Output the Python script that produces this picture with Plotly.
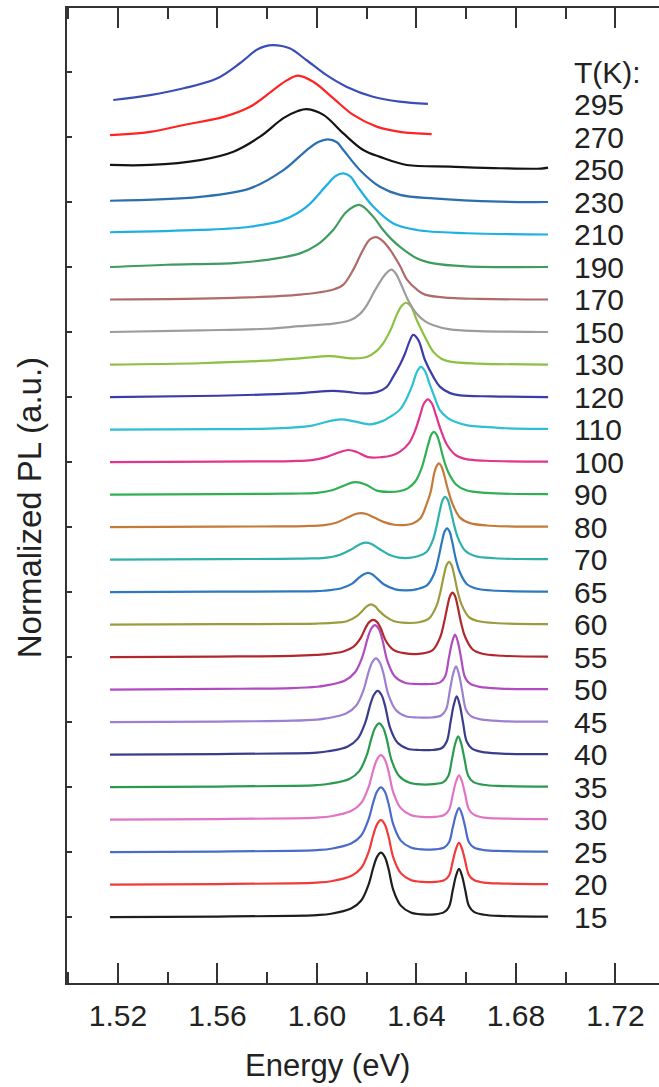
import plotly.graph_objects as go

temps = [15, 20, 25, 30, 35, 40, 45, 50, 55, 60, 65, 70, 80, 90, 100, 110, 120, 130, 150, 170, 190, 210, 230, 250, 270, 295]
colors = ['#1e1e1e', '#f23a3a', '#4a6cc8', '#e274c4', '#2a9a50', '#3a3c8c', '#9c80d2', '#b04cc0', '#b0282c', '#9c9c3e',
          '#2e78c0', '#2eb0ac', '#c47a38', '#30b052', '#e2348c', '#2cc0d2', '#3a3ca8', '#8cc040', '#9c9c9c', '#b06a6a',
          '#3e9c5e', '#1eb0e2', '#2c6eae', '#141414', '#ff2424', '#3a4eb6']

# energies (eV) and normalized intensities
e_15_30 = [1.5168, 1.5600, 1.5900, 1.6000, 1.6057, 1.6137, 1.6177, 1.6207, 1.6227, 1.6242,
           1.6257, 1.6272, 1.6287, 1.6307, 1.6337, 1.6377, 1.6425, 1.6471, 1.6511, 1.6531,
           1.6546, 1.6559, 1.6571, 1.6583, 1.6596, 1.6611, 1.6631, 1.6671, 1.6751, 1.6929]
i15 = [0.00, 0.015, 0.035, 0.06, 0.10, 0.26, 0.50, 0.99, 1.54, 1.86,
       1.98, 1.86, 1.50, 0.83, 0.35, 0.14, 0.08, 0.08, 0.15, 0.32,
       0.83, 1.27, 1.48, 1.27, 0.83, 0.34, 0.16, 0.07, 0.03, 0.01]
i20 = [0.00, 0.015, 0.035, 0.06, 0.10, 0.26, 0.50, 0.99, 1.54, 1.86,
       1.98, 1.86, 1.50, 0.83, 0.35, 0.14, 0.08, 0.08, 0.13, 0.28,
       0.72, 1.10, 1.28, 1.10, 0.72, 0.29, 0.14, 0.06, 0.03, 0.01]
i25 = [0.00, 0.015, 0.035, 0.06, 0.10, 0.26, 0.50, 1.00, 1.55, 1.87,
       1.99, 1.87, 1.51, 0.84, 0.35, 0.14, 0.08, 0.08, 0.14, 0.30,
       0.76, 1.16, 1.35, 1.16, 0.76, 0.30, 0.14, 0.06, 0.03, 0.01]
i30 = [0.00, 0.015, 0.035, 0.06, 0.10, 0.26, 0.50, 0.99, 1.54, 1.86,
       1.98, 1.86, 1.50, 0.83, 0.35, 0.14, 0.08, 0.08, 0.14, 0.30,
       0.76, 1.17, 1.36, 1.17, 0.76, 0.31, 0.15, 0.06, 0.03, 0.01]
e35 = [1.5168, 1.5600, 1.5900, 1.6000, 1.6050, 1.6130, 1.6170, 1.6200, 1.6220, 1.6235,
       1.6250, 1.6265, 1.6280, 1.6300, 1.6330, 1.6370, 1.6420, 1.6468, 1.6508, 1.6528,
       1.6543, 1.6556, 1.6568, 1.6580, 1.6593, 1.6608, 1.6628, 1.6668, 1.6748, 1.6929]
i35 = [0.00, 0.015, 0.035, 0.06, 0.10, 0.25, 0.49, 0.98, 1.53, 1.84,
       1.96, 1.84, 1.49, 0.82, 0.34, 0.14, 0.08, 0.09, 0.15, 0.34,
       0.87, 1.34, 1.56, 1.33, 0.86, 0.35, 0.16, 0.07, 0.03, 0.01]
e40 = [1.5168, 1.5600, 1.5900, 1.6000, 1.6044, 1.6124, 1.6164, 1.6194, 1.6214, 1.6229,
       1.6244, 1.6259, 1.6274, 1.6294, 1.6324, 1.6364, 1.6412, 1.6462, 1.6502, 1.6522,
       1.6537, 1.6550, 1.6562, 1.6574, 1.6587, 1.6602, 1.6622, 1.6662, 1.6742, 1.6929]
i40 = [0.00, 0.015, 0.035, 0.06, 0.10, 0.25, 0.49, 0.98, 1.53, 1.84,
       1.96, 1.84, 1.49, 0.82, 0.36, 0.18, 0.14, 0.14, 0.20, 0.41,
       1.00, 1.53, 1.79, 1.52, 0.99, 0.40, 0.19, 0.08, 0.03, 0.01]
e45 = [1.5168, 1.5600, 1.5900, 1.6000, 1.6037, 1.6117, 1.6157, 1.6187, 1.6207, 1.6222,
       1.6237, 1.6252, 1.6267, 1.6287, 1.6317, 1.6357, 1.6405, 1.6459, 1.6499, 1.6519,
       1.6534, 1.6547, 1.6559, 1.6571, 1.6584, 1.6599, 1.6619, 1.6659, 1.6739, 1.6929]
i45 = [0.00, 0.015, 0.04, 0.075, 0.11, 0.26, 0.50, 0.98, 1.53, 1.84,
       1.96, 1.84, 1.50, 0.84, 0.37, 0.18, 0.14, 0.14, 0.20, 0.39,
       0.96, 1.47, 1.71, 1.46, 0.95, 0.38, 0.18, 0.08, 0.03, 0.01]
e50 = [1.5168, 1.5600, 1.5900, 1.6000, 1.6033, 1.6113, 1.6153, 1.6183, 1.6203, 1.6218,
       1.6233, 1.6248, 1.6263, 1.6283, 1.6313, 1.6353, 1.6401, 1.6455, 1.6495, 1.6515,
       1.6530, 1.6543, 1.6555, 1.6567, 1.6580, 1.6595, 1.6615, 1.6655, 1.6735, 1.6929]
i50 = [0.00, 0.02, 0.045, 0.085, 0.12, 0.28, 0.53, 1.02, 1.56, 1.87,
       1.98, 1.87, 1.53, 0.88, 0.40, 0.21, 0.17, 0.17, 0.22, 0.40,
       0.96, 1.45, 1.69, 1.45, 0.94, 0.38, 0.18, 0.08, 0.03, 0.01]
e55 = [1.5168, 1.5600, 1.5900, 1.6000, 1.6026, 1.6106, 1.6146, 1.6176, 1.6196, 1.6211,
       1.6226, 1.6241, 1.6256, 1.6276, 1.6306, 1.6350, 1.6425, 1.6465, 1.6495, 1.6510,
       1.6525, 1.6535, 1.6545, 1.6555, 1.6565, 1.6580, 1.6595, 1.6625, 1.6665, 1.6745, 1.6929]
i55 = [0.00, 0.015, 0.035, 0.065, 0.08, 0.17, 0.31, 0.59, 0.91, 1.08,
       1.14, 1.08, 0.89, 0.51, 0.23, 0.12, 0.11, 0.21, 0.60, 1.03,
       1.58, 1.88, 1.98, 1.88, 1.58, 1.03, 0.63, 0.24, 0.10, 0.04, 0.01]
e60 = [1.5168, 1.5600, 1.5900, 1.6000, 1.6060, 1.6120, 1.6160, 1.6185, 1.6200, 1.6217,
       1.6234, 1.6250, 1.6275, 1.6310, 1.6360, 1.6411, 1.6451, 1.6481, 1.6496, 1.6511,
       1.6521, 1.6531, 1.6541, 1.6551, 1.6566, 1.6581, 1.6611, 1.6651, 1.6731, 1.6929]
i60 = [0.00, 0.01, 0.02, 0.03, 0.05, 0.10, 0.26, 0.44, 0.56, 0.62,
       0.56, 0.42, 0.25, 0.10, 0.05, 0.07, 0.19, 0.58, 1.00, 1.54,
       1.83, 1.93, 1.83, 1.54, 1.00, 0.62, 0.23, 0.10, 0.04, 0.01]
e65 = [1.5168, 1.5600, 1.5900, 1.6000, 1.6025, 1.6095, 1.6140, 1.6170, 1.6187, 1.6205,
       1.6223, 1.6240, 1.6270, 1.6315, 1.6360, 1.6403, 1.6443, 1.6473, 1.6488, 1.6503,
       1.6513, 1.6523, 1.6533, 1.6543, 1.6558, 1.6573, 1.6603, 1.6643, 1.6723, 1.6929]
i65 = [0.00, 0.01, 0.02, 0.03, 0.04, 0.11, 0.25, 0.45, 0.54, 0.59,
       0.54, 0.43, 0.23, 0.08, 0.05, 0.09, 0.21, 0.60, 1.03, 1.57,
       1.86, 1.96, 1.86, 1.57, 1.02, 0.63, 0.24, 0.10, 0.04, 0.01]
e70 = [1.5168, 1.5600, 1.5850, 1.5950, 1.6030, 1.6090, 1.6140, 1.6175, 1.6197, 1.6219,
       1.6250, 1.6290, 1.6330, 1.6370, 1.6405, 1.6440, 1.6465, 1.6480, 1.6495, 1.6505,
       1.6515, 1.6525, 1.6535, 1.6550, 1.6565, 1.6595, 1.6635, 1.6715, 1.6929]
i70 = [0.00, 0.01, 0.02, 0.03, 0.05, 0.14, 0.32, 0.48, 0.52, 0.48,
       0.33, 0.15, 0.06, 0.05, 0.10, 0.23, 0.58, 1.00, 1.54, 1.83,
       1.93, 1.85, 1.60, 1.10, 0.70, 0.28, 0.11, 0.04, 0.01]
e80 = [1.5168, 1.5600, 1.5850, 1.5950, 1.6030, 1.6080, 1.6125, 1.6155, 1.6177, 1.6199,
       1.6230, 1.6270, 1.6310, 1.6350, 1.6385, 1.6415, 1.6440, 1.6457, 1.6470, 1.6480,
       1.6490, 1.6500, 1.6510, 1.6527, 1.6545, 1.6575, 1.6615, 1.6700, 1.6929]
i80 = [0.00, 0.01, 0.02, 0.03, 0.06, 0.14, 0.30, 0.40, 0.43, 0.40,
       0.29, 0.15, 0.07, 0.06, 0.11, 0.26, 0.69, 1.08, 1.61, 1.86,
       1.96, 1.87, 1.64, 1.14, 0.71, 0.29, 0.12, 0.04, 0.01]
e90 = [1.5168, 1.5600, 1.5800, 1.5900, 1.6000, 1.6060, 1.6110, 1.6153, 1.6195, 1.6241,
       1.6290, 1.6330, 1.6365, 1.6395, 1.6420, 1.6437, 1.6450, 1.6460, 1.6470, 1.6480,
       1.6490, 1.6507, 1.6527, 1.6560, 1.6600, 1.6680, 1.6929]
i90 = [0.00, 0.01, 0.02, 0.03, 0.05, 0.13, 0.28, 0.38, 0.31, 0.12,
       0.08, 0.10, 0.19, 0.40, 0.80, 1.25, 1.62, 1.85, 1.93, 1.86,
       1.66, 1.15, 0.70, 0.30, 0.13, 0.05, 0.01]
e100 = [1.5168, 1.5600, 1.5800, 1.5900, 1.5980, 1.6040, 1.6090, 1.6125, 1.6160, 1.6205,
        1.6260, 1.6300, 1.6334, 1.6370, 1.6395, 1.6415, 1.6430, 1.6446, 1.6462, 1.6478,
        1.6498, 1.6525, 1.6560, 1.6600, 1.6680, 1.6929]
i100 = [0.00, 0.01, 0.02, 0.03, 0.06, 0.16, 0.30, 0.37, 0.31, 0.15,
        0.15, 0.20, 0.32, 0.58, 0.98, 1.45, 1.80, 1.93, 1.80, 1.45,
        0.98, 0.50, 0.20, 0.09, 0.04, 0.01]
e110 = [1.5168, 1.5600, 1.5800, 1.5900, 1.5980, 1.6040, 1.6096, 1.6150, 1.6213, 1.6260,
        1.6294, 1.6334, 1.6360, 1.6385, 1.6402, 1.6418, 1.6434, 1.6452, 1.6475, 1.6494,
        1.6525, 1.6555, 1.6610, 1.6675, 1.6760, 1.6929]
i110 = [0.00, 0.01, 0.03, 0.06, 0.12, 0.24, 0.31, 0.25, 0.16, 0.25,
        0.39, 0.62, 0.95, 1.40, 1.78, 1.93, 1.80, 1.42, 0.95, 0.60,
        0.36, 0.24, 0.12, 0.08, 0.04, 0.02]
e120 = [1.5168, 1.5600, 1.5800, 1.5950, 1.6064, 1.6130, 1.6185, 1.6240, 1.6280, 1.6306,
        1.6334, 1.6354, 1.6374, 1.6386, 1.6407, 1.6434, 1.6468, 1.6494, 1.6535, 1.6575,
        1.6700, 1.6929]
i120 = [0.00, 0.04, 0.08, 0.13, 0.19, 0.15, 0.11, 0.15, 0.31, 0.62,
        1.00, 1.34, 1.75, 1.91, 1.76, 1.14, 0.62, 0.32, 0.12, 0.05,
        0.02, 0.00]
e130 = [1.5168, 1.5530, 1.5800, 1.5932, 1.6052, 1.6145, 1.6200, 1.6240, 1.6266, 1.6295,
        1.6320, 1.6340, 1.6358, 1.6378, 1.6401, 1.6434, 1.6468, 1.6500, 1.6535, 1.6650,
        1.6929]
i130 = [0.00, 0.04, 0.12, 0.19, 0.26, 0.19, 0.23, 0.42, 0.65, 1.05,
        1.52, 1.80, 1.90, 1.78, 1.37, 0.85, 0.39, 0.18, 0.09, 0.03,
        0.00]
e150 = [1.5168, 1.5530, 1.5798, 1.5932, 1.6066, 1.6133, 1.6173, 1.6200, 1.6233, 1.6266,
        1.6285, 1.6300, 1.6317, 1.6334, 1.6367, 1.6401, 1.6435, 1.6468, 1.6535, 1.6650,
        1.6929]
i150 = [0.00, 0.05, 0.10, 0.18, 0.26, 0.36, 0.56, 0.82, 1.28, 1.69,
        1.86, 1.92, 1.80, 1.54, 0.97, 0.56, 0.33, 0.21, 0.08, 0.03,
        0.00]
e170 = [1.5168, 1.5664, 1.5932, 1.6066, 1.6106, 1.6146, 1.6186, 1.6213, 1.6237, 1.6266,
        1.6293, 1.6334, 1.6361, 1.6401, 1.6434, 1.6535, 1.6650, 1.6929]
i170 = [0.00, 0.05, 0.15, 0.31, 0.46, 0.92, 1.54, 1.85, 1.92, 1.79,
        1.54, 1.03, 0.62, 0.31, 0.15, 0.05, 0.02, 0.00]
e190 = [1.5168, 1.5396, 1.5664, 1.5798, 1.5932, 1.6000, 1.6066, 1.6119, 1.6170, 1.6226,
        1.6266, 1.6300, 1.6334, 1.6401, 1.6468, 1.6600, 1.6929]
i190 = [0.00, 0.07, 0.12, 0.22, 0.42, 0.68, 1.15, 1.70, 1.91, 1.55,
        1.14, 0.85, 0.62, 0.27, 0.11, 0.02, 0.00]
e210 = [1.5168, 1.5530, 1.5731, 1.5865, 1.5959, 1.6039, 1.6075, 1.6105, 1.6135, 1.6159,
        1.6226, 1.6307, 1.6401, 1.6602, 1.6929]
i210 = [0.07, 0.14, 0.24, 0.45, 0.86, 1.52, 1.80, 1.88, 1.78, 1.52,
        0.86, 0.34, 0.14, 0.04, 0.00]
e230 = [1.5168, 1.5530, 1.5731, 1.5865, 1.5959, 1.6005, 1.6044, 1.6080, 1.6106, 1.6173,
        1.6253, 1.6334, 1.6468, 1.6736, 1.6929]
i230 = [0.04, 0.16, 0.42, 0.98, 1.60, 1.85, 1.93, 1.84, 1.60, 0.98,
        0.47, 0.22, 0.11, 0.01, 0.00]
e250 = [1.5168, 1.5329, 1.5530, 1.5664, 1.5771, 1.5865, 1.5923, 1.5959, 1.6026, 1.6106,
        1.6186, 1.6253, 1.6361, 1.6535, 1.6736, 1.6900, 1.6929]
i250 = [0.14, 0.14, 0.29, 0.55, 1.01, 1.58, 1.80, 1.86, 1.68, 1.11,
        0.60, 0.39, 0.14, 0.09, 0.04, 0.03, 0.06]
e270 = [1.5168, 1.5329, 1.5464, 1.5625, 1.5731, 1.5825, 1.5880, 1.5924, 1.5985, 1.6066,
        1.6146, 1.6240, 1.6334, 1.6461]
i270 = [0.06, 0.16, 0.37, 0.62, 0.93, 1.45, 1.75, 1.89, 1.70, 1.19,
        0.68, 0.32, 0.16, 0.09]
e295 = [1.5181, 1.5329, 1.5464, 1.5597, 1.5690, 1.5757, 1.5790, 1.5823, 1.5890, 1.5957,
        1.6037, 1.6118, 1.6225, 1.6332, 1.6446]
i295 = [0.14, 0.29, 0.50, 0.80, 1.27, 1.68, 1.79, 1.83, 1.73, 1.37,
        0.91, 0.55, 0.24, 0.09, 0.02]

energies = [e_15_30, e_15_30, e_15_30, e_15_30, e35, e40, e45, e50, e55, e60, e65, e70, e80, e90,
            e100, e110, e120, e130, e150, e170, e190, e210, e230, e250, e270, e295]
intensities = [i15, i20, i25, i30, i35, i40, i45, i50, i55, i60, i65, i70, i80, i90,
               i100, i110, i120, i130, i150, i170, i190, i210, i230, i250, i270, i295]

FONT = "Liberation Sans, Arial, Helvetica, sans-serif"
TXT = "#222222"
AX = "#333333"

fig = go.Figure()
for k, (T, E, I, c) in enumerate(zip(temps, energies, intensities, colors)):
    offset = float(k)
    fig.add_trace(go.Scatter(
        x=E, y=[offset + v for v in I], mode="lines",
        line=dict(color=c, width=2.2, shape="spline", smoothing=1.0),
        name=f"{T} K", showlegend=False, hoverinfo="skip"))

label_x = 1.7025
annotations = [dict(x=label_x, y=float(k), xref="x", yref="y", text=str(T), showarrow=False,
                    xanchor="left", yanchor="middle", font=dict(family=FONT, size=30, color=TXT))
               for k, T in enumerate(temps)]
annotations.append(dict(x=label_x, y=float(len(temps)), xref="x", yref="y", text="T(K):", showarrow=False,
                        xanchor="left", yanchor="middle", font=dict(family=FONT, size=30, color=TXT)))
annotations.append(dict(x=0.44, y=-0.085, xref="paper", yref="paper", text="Energy (eV)", showarrow=False,
                        xanchor="center", yanchor="middle", font=dict(family=FONT, size=31, color=TXT)))
annotations.append(dict(x=-0.064, y=0.487, xref="paper", yref="paper", text="Normalized PL (a.u.)",
                        textangle=-90, showarrow=False, xanchor="center", yanchor="middle",
                        font=dict(family=FONT, size=33, color=TXT)))

fig.update_layout(
    width=659, height=1087,
    margin=dict(l=67, r=0, t=8, b=104),
    paper_bgcolor="white", plot_bgcolor="white",
    font=dict(family=FONT, color=TXT),
    annotations=annotations,
    showlegend=False,
)
fig.update_xaxes(
    range=[1.4995, 1.7375], tick0=1.52, dtick=0.04, tickformat=".2f",
    ticks="inside", ticklen=20, tickwidth=2, tickcolor=AX,
    minor=dict(tick0=1.50, dtick=0.02, ticks="inside", ticklen=11, tickwidth=2, tickcolor=AX, showgrid=False),
    showline=True, linewidth=2, linecolor=AX, mirror="ticks",
    showgrid=False, zeroline=False, tickfont=dict(family=FONT, size=30, color=TXT),
    ticklabelstandoff=5,
)
fig.update_yaxes(
    range=[-2.03, 27.97], tickvals=list(range(0, 27, 2)), showticklabels=False,
    ticks="inside", ticklen=5, tickwidth=1.5, tickcolor=AX,
    showline=True, linewidth=2, linecolor=AX, mirror=False,
    showgrid=False, zeroline=False,
)

fig.write_html("out.html")
